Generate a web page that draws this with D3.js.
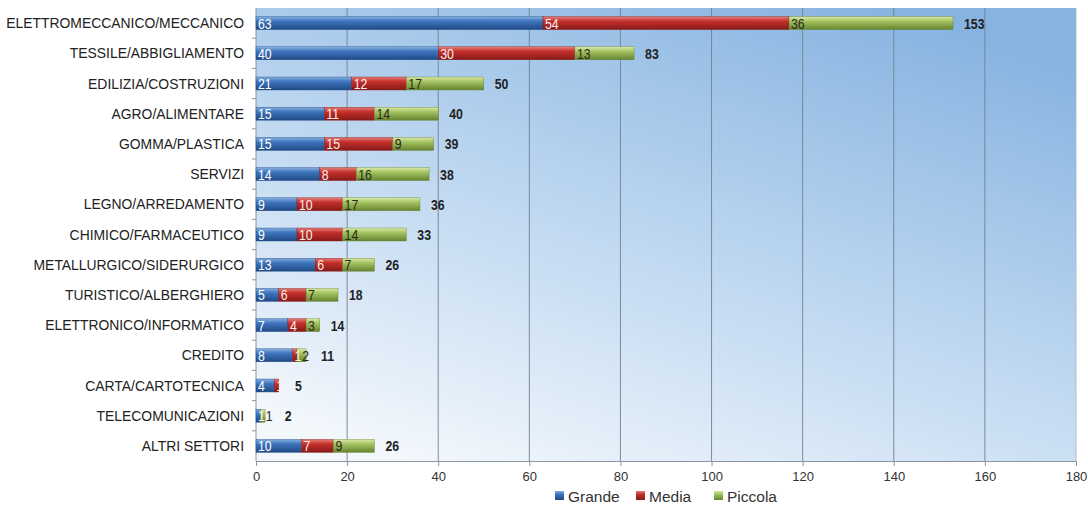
<!DOCTYPE html>
<html>
<head>
<meta charset="UTF-8">
<title>Settori per dimensione</title>
<style>
  body { margin: 0; background: #fff; font-family: "Liberation Sans", Arial, sans-serif; }
  svg { display: block; }
</style>
</head>
<body>
<svg></svg>
<script src="https://d3js.org/d3.v7.min.js"></script>
<script>

// data
const settori = ["ELETTROMECCANICO/MECCANICO", "TESSILE/ABBIGLIAMENTO", "EDILIZIA/COSTRUZIONI",
  "AGRO/ALIMENTARE", "GOMMA/PLASTICA", "SERVIZI", "LEGNO/ARREDAMENTO", "CHIMICO/FARMACEUTICO",
  "METALLURGICO/SIDERURGICO", "TURISTICO/ALBERGHIERO", "ELETTRONICO/INFORMATICO", "CREDITO",
  "CARTA/CARTOTECNICA", "TELECOMUNICAZIONI", "ALTRI SETTORI"];
const grande  = [63, 40, 21, 15, 15, 14, 9, 9, 13, 5, 7, 8, 4, 1, 10];
const media   = [54, 30, 12, 11, 15, 8, 10, 10, 6, 6, 4, 1, 1, 0, 7];
const piccola = [36, 13, 17, 14, 9, 16, 17, 14, 7, 7, 3, 2, 0, 1, 9];
const serie = ["Grande", "Media", "Piccola"];
const xTicks = [0, 20, 40, 60, 80, 100, 120, 140, 160, 180];

let width = 1088, height = 510;
let svg = d3.select("svg").attr("width", width).attr("height", height);

let rows = settori.map((s, i) => ({ settore: s, Grande: grande[i], Media: media[i], Piccola: piccola[i] }));
let stack = d3.stack().keys(serie)(rows);

let x = d3.scaleLinear().domain([0, 180]).range([256, 1076]);
let y = d3.scaleBand().domain(settori).range([8, 461]).paddingInner(0.57).paddingOuter(0.285);

// narrow look for the numbers (horizontal squeeze)
let numSize = 15, squeeze = 0.82, digitW = numSize * 0.556 * squeeze;

// colours: [top, middle, bottom] for the cylinder look
let colori = {
  Grande:  ["#86b0e0", "#3f75bd", "#1f4a85"],
  Media:   ["#e6807a", "#c4302b", "#861a17"],
  Piccola: ["#dbe9a8", "#a5c462", "#66832f"]
};
let testo = { Grande: "#ffffff", Media: "#fdeeee", Piccola: "#2a2a1a" };

let defs = svg.append("defs");
let bg = defs.append("linearGradient").attr("id", "bg")
  .attr("x1", "0.2").attr("y1", "1").attr("x2", "0.8").attr("y2", "0");
bg.append("stop").attr("offset", "0").attr("stop-color", "#f2f7fc");
bg.append("stop").attr("offset", "0.5").attr("stop-color", "#bcd6f0");
bg.append("stop").attr("offset", "1").attr("stop-color", "#86b3e0");

serie.forEach(k => {
  let g = defs.append("linearGradient").attr("id", "g" + k)
    .attr("x1", "0").attr("y1", "0").attr("x2", "0").attr("y2", "1");
  g.append("stop").attr("offset", "0").attr("stop-color", colori[k][0]);
  g.append("stop").attr("offset", "0.35").attr("stop-color", colori[k][1]);
  g.append("stop").attr("offset", "1").attr("stop-color", colori[k][2]);
});

// plot area
svg.append("rect")
  .attr("x", x(0)).attr("y", 8)
  .attr("width", x(180) - x(0)).attr("height", 461 - 8)
  .attr("fill", "url(#bg)");

// vertical grid
svg.append("g").selectAll("line")
  .data(xTicks.filter(d => d > 0))
  .enter().append("line")
  .attr("x1", d => x(d)).attr("x2", d => x(d))
  .attr("y1", 8).attr("y2", 461)
  .attr("stroke", d => d == 180 ? "#a9b8c8" : "#718090")
  .attr("stroke-width", 0.9);

// bottom axis
let xAxis = svg.append("g")
  .attr("transform", "translate(0,461)")
  .call(d3.axisBottom(x).tickValues(xTicks).tickSize(5).tickPadding(6));
xAxis.select(".domain").attr("stroke", "#8a96a4");
xAxis.selectAll(".tick line").attr("stroke", "#8a96a4");
xAxis.selectAll("text").attr("font-size", 13).attr("fill", "#333")
  .attr("font-family", "'Liberation Sans', Arial, sans-serif");

// left axis line with ticks between rows
svg.append("line").attr("x1", x(0)).attr("x2", x(0)).attr("y1", 8).attr("y2", 461)
  .attr("stroke", "#8a96a4");
svg.append("g").selectAll("line")
  .data(settori.slice(1))
  .enter().append("line")
  .attr("x1", x(0) - 4).attr("x2", x(0))
  .attr("y1", d => y(d) - y.step() * y.paddingInner() / 2)
  .attr("y2", d => y(d) - y.step() * y.paddingInner() / 2)
  .attr("stroke", "#8a96a4");

// category labels
svg.append("g").selectAll("text")
  .data(settori)
  .enter().append("text")
  .attr("x", 244)
  .attr("y", d => y(d) + y.bandwidth() / 2)
  .attr("dy", "0.36em")
  .attr("text-anchor", "end")
  .attr("font-size", 13.9)
  .attr("fill", "#222")
  .text(d => d);

// bars
let layers = svg.append("g").selectAll("g")
  .data(stack)
  .enter().append("g");

layers.selectAll("rect")
  .data(d => d.map(v => ({ k: d.key, v: v })))
  .enter().append("rect")
  .filter(d => d.v[1] > d.v[0])
  .attr("x", d => x(d.v[0]))
  .attr("y", d => y(d.v.data.settore))
  .attr("width", d => x(d.v[1]) - x(d.v[0]))
  .attr("height", y.bandwidth())
  .attr("fill", d => "url(#g" + d.k + ")")
  .attr("stroke", d => colori[d.k][2])
  .attr("stroke-width", 0.4);

// segment labels: start of each segment, pushed right if the previous label is in the way
let labels = [];
rows.forEach((r, i) => {
  let end = 0;
  serie.forEach((k, j) => {
    let v = stack[j][i];
    if (v[1] <= v[0]) return;
    let txt = String(v[1] - v[0]);
    let lx = Math.max(x(v[0]) + 2, end + 1);
    end = lx + txt.length * digitW;
    labels.push({ k: k, settore: r.settore, txt: txt, lx: lx });
  });
  r.labelEnd = end;
});

svg.append("g").selectAll("text")
  .data(labels)
  .enter().append("text")
  .attr("transform", d => "translate(" + d.lx + "," + (y(d.settore) + y.bandwidth() / 2) + ") scale(" + squeeze + ",1)")
  .attr("dy", "0.36em")
  .attr("font-size", numSize)
  .attr("fill", d => testo[d.k])
  .text(d => d.txt);

// totals
svg.append("g").selectAll("text")
  .data(rows)
  .enter().append("text")
  .attr("transform", d => "translate(" + Math.max(x(d.Grande + d.Media + d.Piccola) + 11, d.labelEnd + 12) + "," + (y(d.settore) + y.bandwidth() / 2) + ") scale(" + squeeze + ",1)")
  .attr("dy", "0.36em")
  .attr("font-size", numSize)
  .attr("font-weight", "bold")
  .attr("fill", "#222")
  .text(d => d.Grande + d.Media + d.Piccola);

// legend
let legendX = [555, 636, 714];
let legend = svg.append("g").selectAll("g")
  .data(serie)
  .enter().append("g")
  .attr("transform", (d, i) => "translate(" + legendX[i] + ",496)");
legend.append("rect")
  .attr("x", 0).attr("y", -5).attr("width", 9).attr("height", 9)
  .attr("fill", d => "url(#g" + d + ")");
legend.append("text")
  .attr("x", 13).attr("y", 0).attr("dy", "0.36em")
  .attr("font-size", 15.5).attr("fill", "#333")
  .text(d => d);

</script>
</body>
</html>
